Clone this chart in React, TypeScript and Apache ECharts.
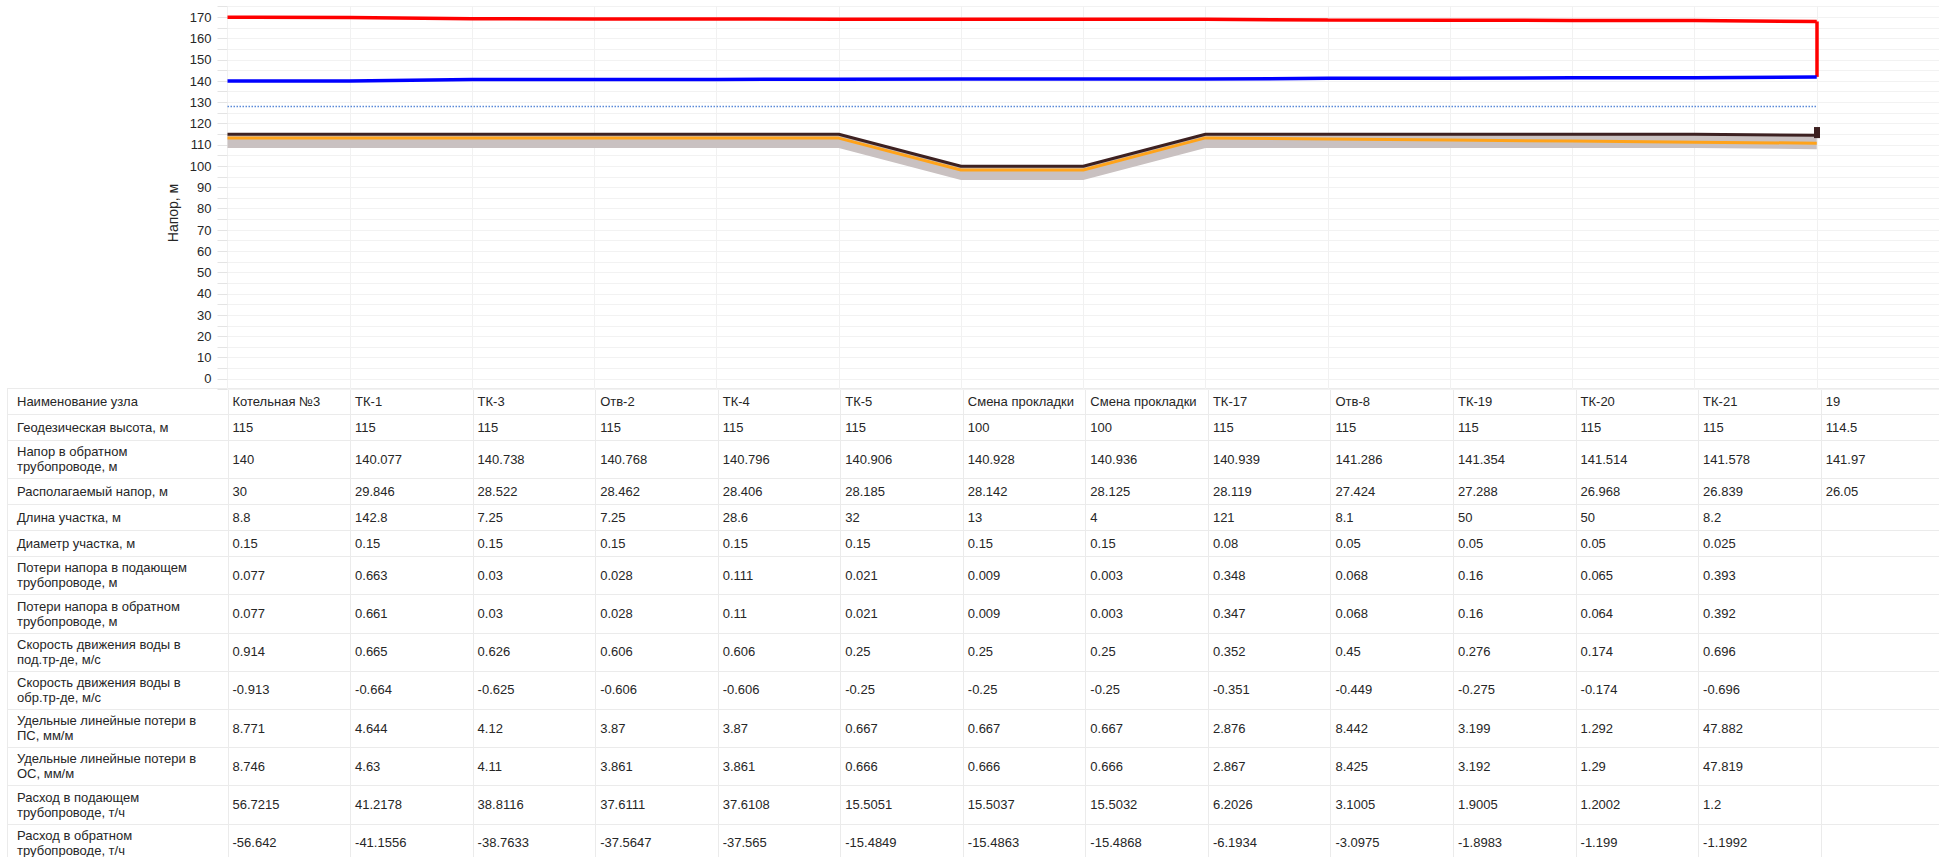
import React, { useEffect, useRef } from 'react';
import * as echarts from 'echarts';

// ---------- data ----------
const nodeNames = [
  'Котельная №3', 'ТК-1', 'ТК-3', 'Отв-2', 'ТК-4', 'ТК-5', 'Смена прокладки',
  'Смена прокладки', 'ТК-17', 'Отв-8', 'ТК-19', 'ТК-20', 'ТК-21', '19',
];
const supplyHead = [170, 169.923, 169.26, 169.23, 169.202, 169.091, 169.07, 169.061, 169.058, 168.71, 168.642, 168.482, 168.417, 168.02];
const returnHead = [140, 140.077, 140.738, 140.768, 140.796, 140.906, 140.928, 140.936, 140.939, 141.286, 141.354, 141.514, 141.578, 141.97];
const staticHead = [128, 128, 128, 128, 128, 128, 128, 128, 128, 128, 128, 128, 128, 128];
const groundLevel = [115, 115, 115, 115, 115, 115, 100, 100, 115, 115, 115, 115, 115, 114.5];
const pipeLevel = [113.2, 113.2, 113.2, 113.2, 113.2, 113.2, 98.2, 98.2, 113.3, 112.8, 112.3, 111.8, 111.3, 110.8];
const bandBottom = [108.5, 108.5, 108.5, 108.5, 108.5, 108.5, 93.5, 93.5, 108.5, 108.5, 108.5, 108.5, 108.5, 108];
const bandDepth = [6.5, 6.5, 6.5, 6.5, 6.5, 6.5, 6.5, 6.5, 6.5, 6.5, 6.5, 6.5, 6.5, 6.5];
const endMarker = [113.2, 118.4];
const yTickLabels = [0, 10, 20, 30, 40, 50, 60, 70, 80, 90, 100, 110, 120, 130, 140, 150, 160, 170];

const availableHead = [30, 29.846, 28.522, 28.462, 28.406, 28.185, 28.142, 28.125, 28.119, 27.424, 27.288, 26.968, 26.839, 26.05];
const sectionLength = [8.8, 142.8, 7.25, 7.25, 28.6, 32, 13, 4, 121, 8.1, 50, 50, 8.2, null];
const sectionDiameter = [0.15, 0.15, 0.15, 0.15, 0.15, 0.15, 0.15, 0.15, 0.08, 0.05, 0.05, 0.05, 0.025, null];
const supplyLoss = [0.077, 0.663, 0.03, 0.028, 0.111, 0.021, 0.009, 0.003, 0.348, 0.068, 0.16, 0.065, 0.393, null];
const returnLoss = [0.077, 0.661, 0.03, 0.028, 0.11, 0.021, 0.009, 0.003, 0.347, 0.068, 0.16, 0.064, 0.392, null];
const supplyVelocity = [0.914, 0.665, 0.626, 0.606, 0.606, 0.25, 0.25, 0.25, 0.352, 0.45, 0.276, 0.174, 0.696, null];
const returnVelocity = [-0.913, -0.664, -0.625, -0.606, -0.606, -0.25, -0.25, -0.25, -0.351, -0.449, -0.275, -0.174, -0.696, null];
const specLossSupply = [8.771, 4.644, 4.12, 3.87, 3.87, 0.667, 0.667, 0.667, 2.876, 8.442, 3.199, 1.292, 47.882, null];
const specLossReturn = [8.746, 4.63, 4.11, 3.861, 3.861, 0.666, 0.666, 0.666, 2.867, 8.425, 3.192, 1.29, 47.819, null];
const supplyFlow = [56.7215, 41.2178, 38.8116, 37.6111, 37.6108, 15.5051, 15.5037, 15.5032, 6.2026, 3.1005, 1.9005, 1.2002, 1.2, null];
const returnFlow = [-56.642, -41.1556, -38.7633, -37.5647, -37.565, -15.4849, -15.4863, -15.4868, -6.1934, -3.0975, -1.8983, -1.199, -1.1992, null];

const tableRows: { label: string; values: (string | number | null)[] }[] = [
  { label: 'Наименование узла', values: nodeNames },
  { label: 'Геодезическая высота, м', values: groundLevel },
  { label: 'Напор в обратном\nтрубопроводе, м', values: returnHead },
  { label: 'Располагаемый напор, м', values: availableHead },
  { label: 'Длина участка, м', values: sectionLength },
  { label: 'Диаметр участка, м', values: sectionDiameter },
  { label: 'Потери напора в подающем\nтрубопроводе, м', values: supplyLoss },
  { label: 'Потери напора в обратном\nтрубопроводе, м', values: returnLoss },
  { label: 'Скорость движения воды в\nпод.тр-де, м/с', values: supplyVelocity },
  { label: 'Скорость движения воды в\nобр.тр-де, м/с', values: returnVelocity },
  { label: 'Удельные линейные потери в\nПС, мм/м', values: specLossSupply },
  { label: 'Удельные линейные потери в\nОС, мм/м', values: specLossReturn },
  { label: 'Расход в подающем\nтрубопроводе, т/ч', values: supplyFlow },
  { label: 'Расход в обратном\nтрубопроводе, т/ч', values: returnFlow },
];

// ---------- layout ----------
const FONT = '"Liberation Sans", Arial, Helvetica, sans-serif';
const W = 1939;
const H = 857;
const COL0 = 227.5;
const COLW = 122.55;
const GRID_TOP = 6.6;
const GRID_H = 383;
const TABLE_TOP = 388;
const ROW_1 = 26;
const ROW_2 = 38.2;
const LINE_C = '#ebebeb';
const TEXT_C = '#262626';
const TABLE_FONT = `13px ${FONT}`;

function buildTable() {
  const els: any[] = [];
  let y = TABLE_TOP;
  const boundaries: number[] = [y];
  tableRows.forEach((row) => {
    const h = row.label.includes('\n') ? ROW_2 : ROW_1;
    const cy = y + h / 2;
    els.push({
      type: 'text',
      x: 17,
      y: cy,
      silent: true,
      style: {
        text: row.label,
        fill: TEXT_C,
        font: TABLE_FONT,
        lineHeight: 15,
        align: 'left',
        verticalAlign: 'middle',
        textAlign: 'left',
        textVerticalAlign: 'middle',
      },
    });
    row.values.forEach((v, i) => {
      if (v === null || v === undefined) return;
      els.push({
        type: 'text',
        x: COL0 + COLW * i + 5,
        y: cy,
        silent: true,
        style: {
          text: String(v),
          fill: TEXT_C,
          font: TABLE_FONT,
          align: 'left',
          verticalAlign: 'middle',
          textAlign: 'left',
          textVerticalAlign: 'middle',
        },
      });
    });
    y += h;
    boundaries.push(y);
  });
  boundaries.forEach((by) => {
    const yy = Math.round(by) + 0.5;
    els.push({
      type: 'line',
      silent: true,
      shape: { x1: 7, y1: yy, x2: W, y2: yy },
      style: { stroke: LINE_C, lineWidth: 1 },
    });
  });
  const xs = [7];
  for (let i = 0; i <= nodeNames.length; i++) xs.push(COL0 + COLW * i);
  xs.forEach((x) => {
    const xx = Math.round(x) + 0.5;
    els.push({
      type: 'line',
      silent: true,
      shape: { x1: xx, y1: TABLE_TOP, x2: xx, y2: H },
      style: { stroke: LINE_C, lineWidth: 1 },
    });
  });
  return els;
}

const last = nodeNames.length - 1;

function buildOption(): any {
  return {
    animation: false,
    backgroundColor: '#ffffff',
    textStyle: { fontFamily: FONT },
    grid: { left: COL0, top: GRID_TOP, width: COLW * nodeNames.length, height: GRID_H, containLabel: false },
    xAxis: {
      type: 'category',
      data: [...nodeNames, ''],
      boundaryGap: false,
      axisLabel: { show: false },
      axisTick: { show: false },
      axisLine: { show: false },
      splitLine: { show: true, interval: 0, lineStyle: { color: '#f1f1f1', width: 1 } },
    },
    yAxis: {
      type: 'value',
      min: -5,
      max: 175,
      interval: 5,
      axisLine: { show: false },
      axisTick: { show: true, length: 10, lineStyle: { color: '#e4e4e4' } },
      splitLine: { show: true, lineStyle: { color: '#f2f2f2', width: 1 } },
      axisLabel: {
        color: '#262626',
        fontSize: 13,
        fontFamily: FONT,
        margin: 16,
        formatter: (v: number) => (yTickLabels.includes(v) ? String(v) : ''),
      },
    },
    graphic: [
      {
        type: 'text',
        x: 173,
        y: 213,
        rotation: Math.PI / 2,
        silent: true,
        style: {
          text: 'Напор, м',
          fill: '#262626',
          font: `14px ${FONT}`,
          align: 'center',
          verticalAlign: 'middle',
          textAlign: 'center',
          textVerticalAlign: 'middle',
        },
      },
      ...buildTable(),
    ],
    series: [
      {
        name: 'bandBase',
        type: 'line',
        data: bandBottom,
        stack: 'band',
        symbol: 'none',
        silent: true,
        lineStyle: { width: 0, opacity: 0 },
        z: 1,
      },
      {
        name: 'band',
        type: 'line',
        data: bandDepth,
        stack: 'band',
        symbol: 'none',
        silent: true,
        lineStyle: { width: 0, opacity: 0 },
        areaStyle: { color: '#c9c1c1', opacity: 1 },
        z: 1,
      },
      {
        name: 'pipe',
        type: 'line',
        data: pipeLevel,
        symbol: 'none',
        silent: true,
        lineStyle: { color: '#ffa31a', width: 3 },
        z: 3,
      },
      {
        name: 'ground',
        type: 'line',
        data: groundLevel,
        symbol: 'none',
        silent: true,
        lineStyle: { color: '#3d2121', width: 3 },
        z: 4,
        markLine: {
          silent: true,
          symbol: ['none', 'none'],
          label: { show: false },
          lineStyle: { color: '#3d2121', width: 6, type: 'solid' },
          data: [[{ coord: [last, endMarker[0]] }, { coord: [last, endMarker[1]] }]],
        },
      },
      {
        name: 'static',
        type: 'line',
        data: staticHead,
        symbol: 'none',
        silent: true,
        lineStyle: { color: '#5b8ad8', width: 1.5, type: 'dotted' },
        z: 5,
      },
      {
        name: 'return',
        type: 'line',
        data: returnHead,
        symbol: 'none',
        silent: true,
        lineStyle: { color: '#0000ff', width: 3.5 },
        z: 6,
      },
      {
        name: 'supply',
        type: 'line',
        data: supplyHead,
        symbol: 'none',
        silent: true,
        lineStyle: { color: '#ff0000', width: 3.5 },
        z: 7,
        markLine: {
          silent: true,
          symbol: ['none', 'none'],
          label: { show: false },
          lineStyle: { color: '#ff0000', width: 3.5, type: 'solid' },
          data: [[{ coord: [last, supplyHead[last]] }, { coord: [last, returnHead[last]] }]],
        },
      },
    ],
  };
}

export default function App() {
  const ref = useRef<HTMLDivElement>(null);
  useEffect(() => {
    document.body.style.margin = '0';
    const chart = echarts.init(ref.current!, null, { renderer: 'svg' });
    chart.setOption(buildOption());
    return () => chart.dispose();
  }, []);
  return <div ref={ref} style={{ width: W, height: H }} />;
}
